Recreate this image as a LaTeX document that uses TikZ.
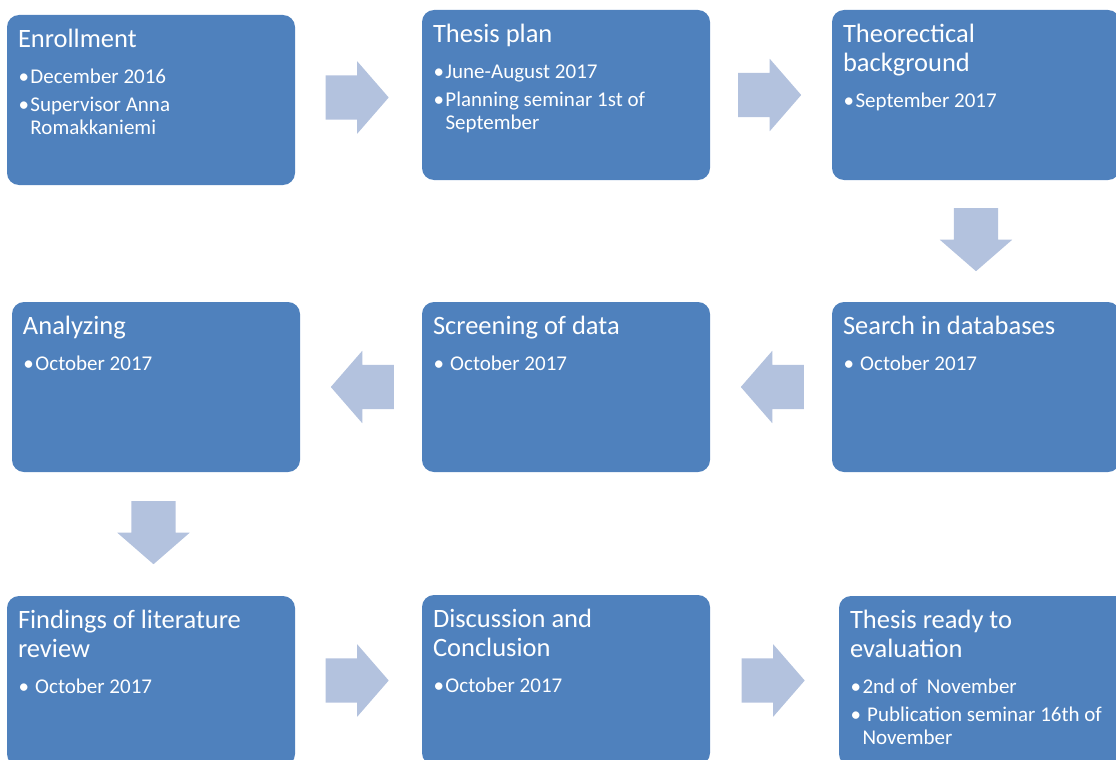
\documentclass[tikz,border=0pt]{standalone}
\usepackage{fontspec}
\setmainfont{Carlito}
\usepackage{tikz}
\usetikzlibrary{positioning, calc, shapes.arrows}
\definecolor{stageblue}{HTML}{4F81BD}
\definecolor{flowblue}{HTML}{B3C2DE}
\newcommand{\titlefont}{\fontsize{26.5}{28.5}\selectfont}
\newcommand{\itemfont}{\fontsize{21}{23}\selectfont}
\newcommand{\bitem}[1]{\par\hangindent=12.5pt\hangafter=1\noindent\makebox[12.5pt][l]{\hspace{0.5pt}•}#1}
\newcommand{\stagetext}[2]{\parbox[c][170pt][t]{266pt}{\raggedright\titlefont
	\rule{0pt}{32.5pt}#1\par\itemfont\parskip=5pt\vspace{8pt}#2}}
\tikzset{
		stage/.style={
			rectangle,
			rounded corners=12pt,
			fill=stageblue,
			text=white,
			anchor=north west,
			minimum width=288pt,
			minimum height=170pt,
			inner xsep=11pt,
			inner ysep=0pt,
			outer sep=0pt
		},
		flow/.style={
			single arrow,
			fill=flowblue,
			draw=none,
			anchor=tail,
			minimum height=63pt,
			inner xsep=0pt,
			inner ysep=22pt,
			single arrow head extend=14pt,
			single arrow tip angle=98
		},
		flow left/.style={flow, rotate=180},
		flow down/.style={flow, rotate=-90}
	}
\begin{document}
\begin{tikzpicture}[x=1pt, y=-1pt]
	\useasboundingbox (0,0) rectangle (1116,760);
	% first row
	\node[stage] (enroll) at (7,15) {\stagetext{Enrollment}{\bitem{December 2016}\bitem{Supervisor Anna\newline Romakkaniemi}}};
	\node[stage] (plan) at (422,10) {\stagetext{Thesis plan}{\bitem{June-August 2017}\bitem{Planning seminar 1st of\newline September}}};
	\node[stage] (theory) at (832,10) {\stagetext{Theorectical\\background}{\bitem{September 2017}}};
	% second row
	\node[stage] (analyze) at (12,302) {\stagetext{Analyzing}{\bitem{October 2017}}};
	\node[stage] (screen) at (422,302) {\stagetext{Screening of data}{\bitem{\ October 2017}}};
	\node[stage] (search) at (832,302) {\stagetext{Search in databases}{\bitem{\ October 2017}}};
	% third row
	\node[stage] (findings) at (7,596) {\stagetext{Findings of literature\\review}{\bitem{\ October 2017}}};
	\node[stage] (discuss) at (422,595) {\stagetext{Discussion and\\Conclusion}{\bitem{October 2017}}};
	\node[stage] (ready) at (839,596) {\stagetext{Thesis ready to\\evaluation}{\bitem{2nd of\ \ November}\bitem{\ Publication seminar 16th of\newline November}}};
	% block arrows between the stages, placed by their tails
	\node[flow] (a1) at ($(enroll.east)!0.5!(plan.west)+(-33,0)$) {};
	\node[flow] (a2) at ($(plan.east)!0.5!(theory.west)+(-33,0)$) {};
	\node[flow down] (a3) at ($(theory.south)!0.5!(search.north)+(0,-33)$) {};
	\node[flow left] (a4) at ($(search.west)!0.5!(screen.east)+(33,0)$) {};
	\node[flow left] (a5) at ($(screen.west)!0.5!(analyze.east)+(33,0)$) {};
	\node[flow down] (a6) at ($(analyze.south)!0.5!(findings.north)+(0,-33)$) {};
	\node[flow] (a7) at ($(findings.east)!0.5!(discuss.west)+(-33,0)$) {};
	\node[flow] (a8) at ($(discuss.east)!0.5!(ready.west)+(-33,0)$) {};
\end{tikzpicture}
\end{document}
